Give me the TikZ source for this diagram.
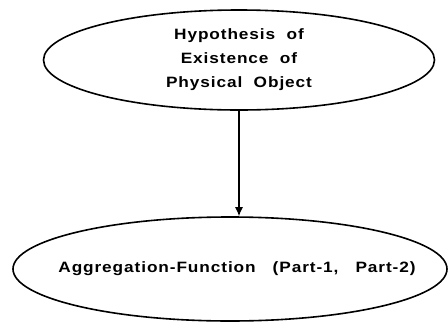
\documentclass[tikz,border=0pt]{standalone}
\usepackage{fontspec}
\setmainfont{Liberation Sans}[LetterSpace=6,FakeStretch=1.15]
\usetikzlibrary{shapes.geometric,arrows.meta}
\begin{document}
\begin{tikzpicture}[x=1pt,y=-1pt,
  oval/.style={draw, ellipse, line width=1.6pt, inner sep=0pt},
  lbl/.style={font=\fontsize{15}{24}\selectfont\bfseries, align=center},
  link/.style={line width=1.2pt, -{Latex[length=9pt,width=8pt]}}]
\useasboundingbox (0,0) rectangle (448,322);
\node[oval, minimum width=391pt, minimum height=100pt,
  label={[lbl]center:Hypothesis\ \ of\\Existence\ \ of\\Physical\ \ Object}] (top) at (239,60) {};
\node[oval, minimum width=434pt, minimum height=104pt,
  label={[lbl, xshift=7pt]center:Aggregation-Function\ \ \ (Part-1,\ \ \ Part-2)}] (bot) at (230,269) {};
\draw[link] (top.south) -- (top.south |- bot.north);
\end{tikzpicture}
\end{document}
